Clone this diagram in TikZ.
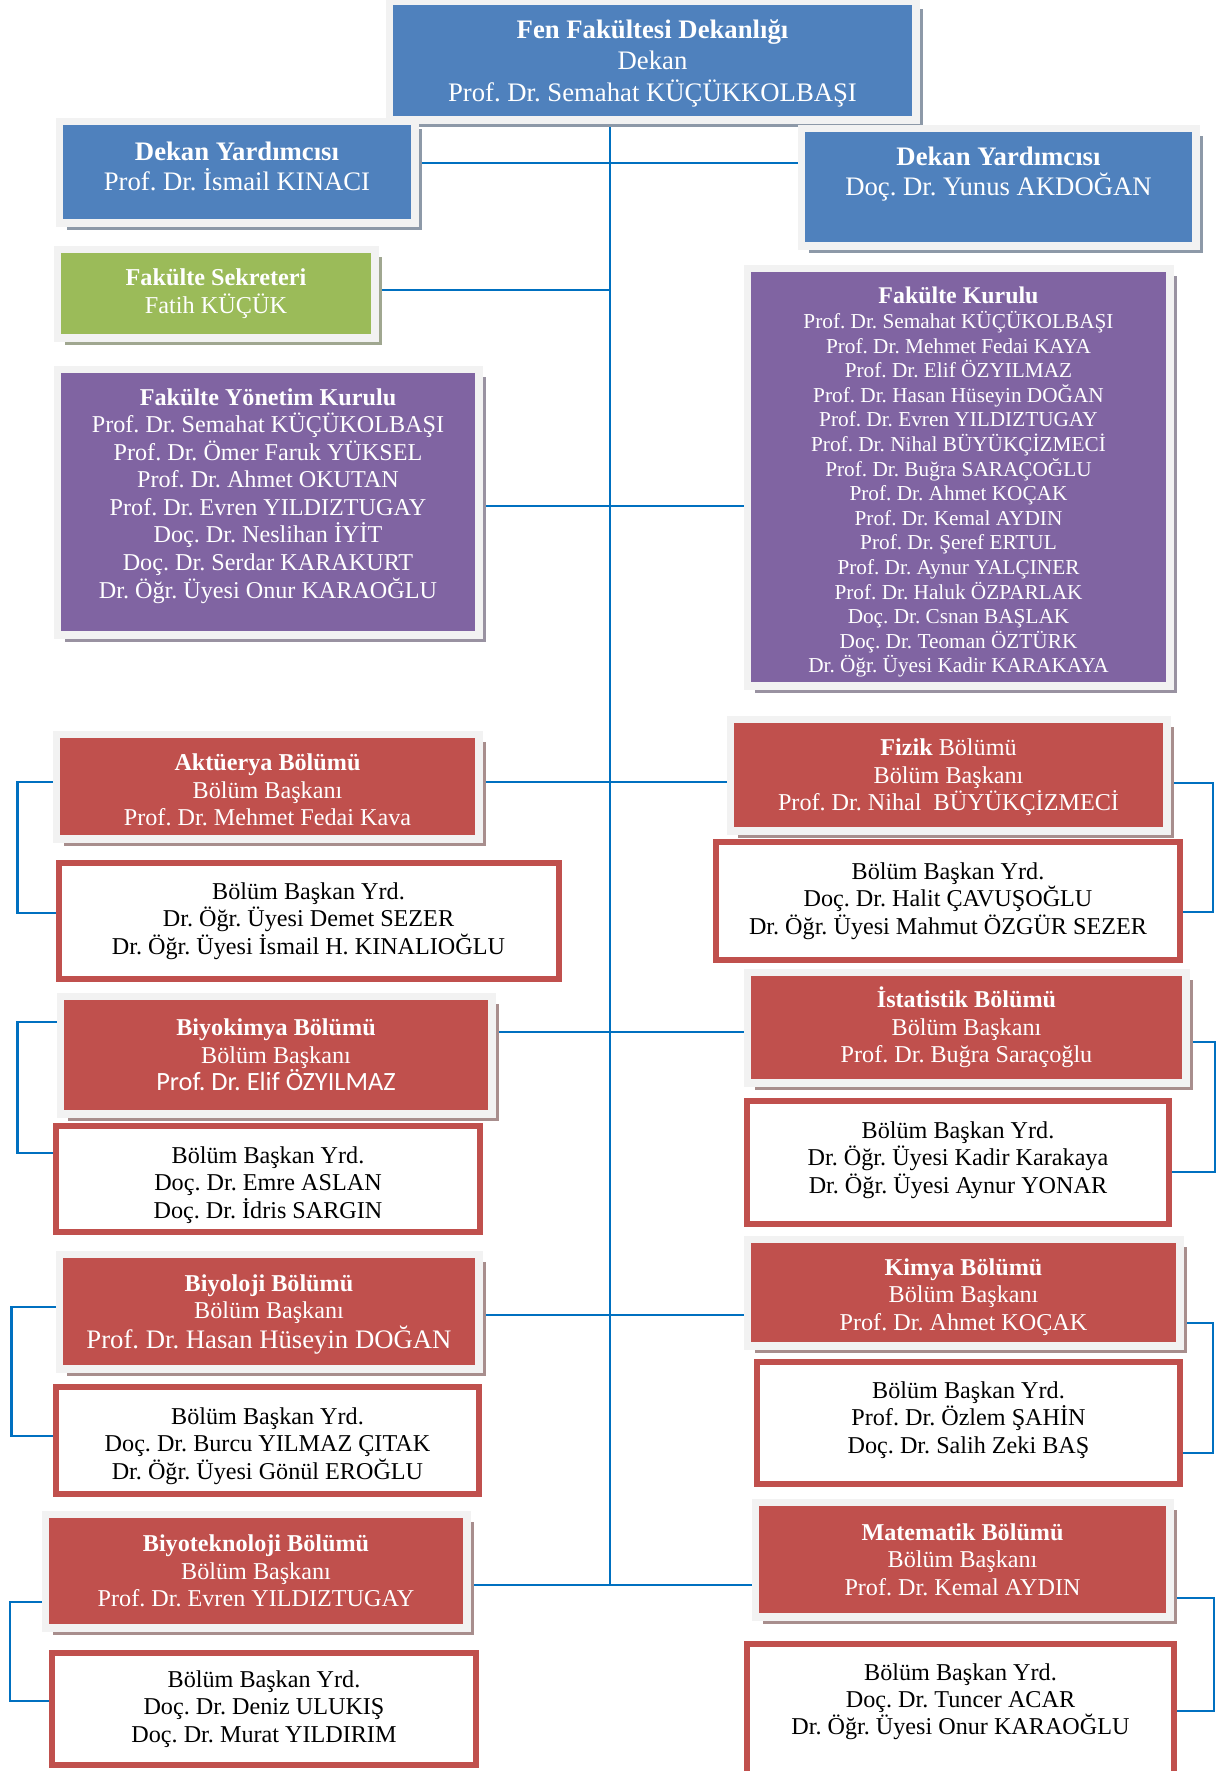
\documentclass[tikz,border=0pt]{standalone}
\usepackage{fontspec}
\setmainfont{Liberation Serif}
\newfontfamily\carlito{Carlito}
\usepackage{xcolor}
\usepackage{tikz}
\usetikzlibrary{shadows, backgrounds}
\definecolor{deanblue}{HTML}{4F81BD}
\definecolor{boardpurple}{HTML}{8064A2}
\definecolor{secgreen}{HTML}{9BBB59}
\definecolor{deptred}{HTML}{C0504D}
\definecolor{framegray}{HTML}{F2F2F2}
\definecolor{linkblue}{HTML}{0070C0}
\frenchspacing

\begin{document}
\begin{tikzpicture}[
    head/.style={rectangle, fill=#1, draw=framegray, line width=1.5mm, text=white, align=center, inner sep=2pt,
        drop shadow={shadow xshift=1.5mm, shadow yshift=-1.5mm, fill=#1!30!gray!80, opacity=1}},
    dept/.style={head=deptred, font=\fontsize{13.75}{15.6}\selectfont},
    deputy/.style={rectangle, draw=deptred, fill=white, line width=1.2mm, align=center, inner sep=2pt, font=\fontsize{13.75}{15.6}\selectfont},
    link/.style={line width=1.2pt, color=linkblue}
]
\useasboundingbox (0,0) rectangle (24.38,-35.42);

% Dean's office
\node[head=deanblue, minimum width=10.53cm, minimum height=2.37cm, font=\fontsize{15.2}{18}\selectfont, text depth=0pt] (dekan) at (13.05,-1.21)
    {\textbf{Fen Fakültesi Dekanlığı}\\Dekan\\Prof. Dr. Semahat KÜÇÜKKOLBAŞI};
\node[head=deanblue, minimum width=7.11cm, minimum height=2.03cm, font=\fontsize{15.2}{17.2}\selectfont, text depth=7pt] (dyleft) at (4.74,-3.44)
    {\textbf{Dekan Yardımcısı}\\Prof. Dr. İsmail KINACI};
\node[head=deanblue, minimum width=7.89cm, minimum height=2.35cm, font=\fontsize{15.2}{17.2}\selectfont, text depth=18pt] (dyright) at (19.97,-3.74)
    {\textbf{Dekan Yardımcısı}\\Doç. Dr. Yunus AKDOĞAN};
\node[head=secgreen, minimum width=6.35cm, minimum height=1.77cm, font=\fontsize{13.8}{15.8}\selectfont] (sekreter) at (4.32,-5.87)
    {\textbf{Fakülte Sekreteri}\\Fatih KÜÇÜK};

% Boards
\node[head=boardpurple, minimum width=8.43cm, minimum height=5.31cm, font=\fontsize{13.75}{15.7}\selectfont, text depth=10pt] (fyk) at (5.36,-10.04)
    {\textbf{Fakülte Yönetim Kurulu}\\Prof. Dr. Semahat KÜÇÜKOLBAŞI\\Prof. Dr. Ömer Faruk YÜKSEL\\Prof. Dr. Ahmet OKUTAN\\
     Prof. Dr. Evren YILDIZTUGAY\\Doç. Dr. Neslihan İYİT\\Doç. Dr. Serdar KARAKURT\\Dr. Öğr. Üyesi Onur KARAOĞLU};
\node[head=boardpurple, minimum width=8.45cm, minimum height=8.35cm, font=\fontsize{12.1}{14}\selectfont, text depth=0pt] (fk) at (19.17,-9.54)
    {\rule{0pt}{13pt}{\fontsize{13.6}{14}\selectfont\textbf{Fakülte Kurulu}}\\Prof. Dr. Semahat KÜÇÜKOLBAŞI\\Prof. Dr. Mehmet Fedai KAYA\\Prof. Dr. Elif ÖZYILMAZ\\
     Prof. Dr. Hasan Hüseyin DOĞAN\\Prof. Dr. Evren YILDIZTUGAY\\Prof. Dr. Nihal BÜYÜKÇİZMECİ\\Prof. Dr. Buğra SARAÇOĞLU\\
     Prof. Dr. Ahmet KOÇAK\\Prof. Dr. Kemal AYDIN\\Prof. Dr. Şeref ERTUL\\Prof. Dr. Aynur YALÇINER\\Prof. Dr. Haluk ÖZPARLAK\\
     Doç. Dr. Csnan BAŞLAK\\Doç. Dr. Teoman ÖZTÜRK\\Dr. Öğr. Üyesi Kadir KARAKAYA};

% Departments, left column
\node[dept, minimum width=8.45cm, minimum height=2.09cm, text depth=0pt] (aktuerya) at (5.35,-15.73)
    {\rule{0pt}{13.1pt}\textbf{Aktüerya Bölümü}\\Bölüm Başkanı\\Prof. Dr. Mehmet Fedai Kava};
\node[deputy, minimum width=10cm, minimum height=2.31cm] (aktyrd) at (6.17,-18.42)
    {Bölüm Başkan Yrd.\\Dr. Öğr. Üyesi Demet SEZER\\Dr. Öğr. Üyesi İsmail H. KINALIOĞLU};
\node[dept, minimum width=8.63cm, minimum height=2.35cm] (biyokimya) at (5.52,-21.1)
    {\textbf{Biyokimya Bölümü}\\Bölüm Başkanı\\{\carlito\fontsize{15}{17}\selectfont Prof. Dr. Elif ÖZYILMAZ}};
\node[deputy, minimum width=8.48cm, minimum height=2.12cm, text depth=0pt] (biyokyrd) at (5.36,-23.58)
    {\rule{0pt}{13.2pt}Bölüm Başkan Yrd.\\Doç. Dr. Emre ASLAN\\Doç. Dr. İdris SARGIN};
\node[dept, minimum width=8.39cm, minimum height=2.29cm, text depth=0pt] (biyoloji) at (5.38,-26.23)
    {\textbf{Biyoloji Bölümü}\\Bölüm Başkanı\\{\fontsize{15.2}{17}\selectfont Prof. Dr. Hasan Hüseyin DOĞAN}};
\node[deputy, minimum width=8.46cm, minimum height=2.14cm, text depth=0pt] (biyolyrd) at (5.35,-28.81)
    {\rule{0pt}{12.6pt}Bölüm Başkan Yrd.\\Doç. Dr. Burcu YILMAZ ÇITAK\\Dr. Öğr. Üyesi Gönül EROĞLU};
\node[dept, minimum width=8.43cm, minimum height=2.27cm] (biyotek) at (5.12,-31.42)
    {\textbf{Biyoteknoloji Bölümü}\\Bölüm Başkanı\\Prof. Dr. Evren YILDIZTUGAY};
\node[deputy, minimum width=8.48cm, minimum height=2.24cm] (biyotyrd) at (5.28,-34.18)
    {Bölüm Başkan Yrd.\\Doç. Dr. Deniz ULUKIŞ\\Doç. Dr. Murat YILDIRIM};

% Departments, right column
\node[dept, minimum width=8.73cm, minimum height=2.23cm, text depth=0pt] (fizik) at (18.97,-15.5)
    {\textbf{Fizik} Bölümü\\Bölüm Başkanı\\Prof. Dr. Nihal\ \ BÜYÜKÇİZMECİ};
\node[deputy, minimum width=9.28cm, minimum height=2.36cm] (fizyrd) at (18.96,-18.02)
    {Bölüm Başkan Yrd.\\Doç. Dr. Halit ÇAVUŞOĞLU\\Dr. Öğr. Üyesi Mahmut ÖZGÜR SEZER};
\node[dept, minimum width=8.77cm, minimum height=2.21cm] (istatistik) at (19.33,-20.55)
    {\textbf{İstatistik Bölümü}\\Bölüm Başkanı\\Prof. Dr. Buğra Saraçoğlu};
\node[deputy, minimum width=8.44cm, minimum height=2.46cm, text depth=6pt] (istyrd) at (19.16,-23.25)
    {Bölüm Başkan Yrd.\\Dr. Öğr. Üyesi Kadir Karakaya\\Dr. Öğr. Üyesi Aynur YONAR};
\node[dept, minimum width=8.65cm, minimum height=2.13cm, text depth=0pt] (kimya) at (19.27,-25.85)
    {\rule{0pt}{11.9pt}\textbf{Kimya Bölümü}\\Bölüm Başkanı\\Prof. Dr. Ahmet KOÇAK};
\node[deputy, minimum width=8.46cm, minimum height=2.44cm, text depth=6.5pt] (kimyrd) at (19.37,-28.46)
    {Bölüm Başkan Yrd.\\Prof. Dr. Özlem ŞAHİN\\Doç. Dr. Salih Zeki BAŞ};
\node[dept, minimum width=8.29cm, minimum height=2.29cm] (matematik) at (19.25,-31.19)
    {\textbf{Matematik Bölümü}\\Bölüm Başkanı\\Prof. Dr. Kemal AYDIN};
\node[deputy, minimum width=8.54cm, minimum height=2.66cm, text depth=13pt] (matyrd) at (19.21,-34.21)
    {Bölüm Başkan Yrd.\\Doç. Dr. Tuncer ACAR\\Dr. Öğr. Üyesi Onur KARAOĞLU};

% Connectors
\coordinate (spineend) at (12.2,-31.7);
\begin{scope}[on background layer]
\draw[link] (dekan.south -| spineend) -- (spineend);
\draw[link] (dyleft.east |- 0,-3.26) -- (dyright.west |- 0,-3.26);
\draw[link] (sekreter.east |- 0,-5.8) -- (spineend |- 0,-5.8);
\draw[link] (fyk.east |- 0,-10.12) -- (fk.west |- 0,-10.12);
\draw[link] (aktuerya.east |- 0,-15.64) -- (fizik.west |- 0,-15.64);
\draw[link] (biyokimya.east |- 0,-20.64) -- (istatistik.west |- 0,-20.64);
\draw[link] (biyoloji.east |- 0,-26.3) -- (kimya.west |- 0,-26.3);
\draw[link] (biyotek.east |- 0,-31.7) -- (matematik.west |- 0,-31.7);

% Head to deputy brackets
\draw[link] (aktuerya.west |- 0,-15.64) -- (0.35,-15.64) -- (0.35,-18.26) -- (aktyrd.west |- 0,-18.26);
\draw[link] (biyokimya.west |- 0,-20.44) -- (0.35,-20.44) -- (0.35,-23.06) -- (biyokyrd.west |- 0,-23.06);
\draw[link] (biyoloji.west |- 0,-26.14) -- (0.23,-26.14) -- (0.23,-28.72) -- (biyolyrd.west |- 0,-28.72);
\draw[link] (biyotek.west |- 0,-32.04) -- (0.2,-32.04) -- (0.2,-34.02) -- (biyotyrd.west |- 0,-34.02);
\draw[link] (fizik.east |- 0,-15.66) -- (24.26,-15.66) -- (24.26,-18.24) -- (fizyrd.east |- 0,-18.24);
\draw[link] (istatistik.east |- 0,-20.84) -- (24.3,-20.84) -- (24.3,-23.44) -- (istyrd.east |- 0,-23.44);
\draw[link] (kimya.east |- 0,-26.46) -- (24.26,-26.46) -- (24.26,-29.06) -- (kimyrd.east |- 0,-29.06);
\draw[link] (matematik.east |- 0,-31.96) -- (24.28,-31.96) -- (24.28,-34.22) -- (matyrd.east |- 0,-34.22);
\end{scope}

\end{tikzpicture}
\end{document}
